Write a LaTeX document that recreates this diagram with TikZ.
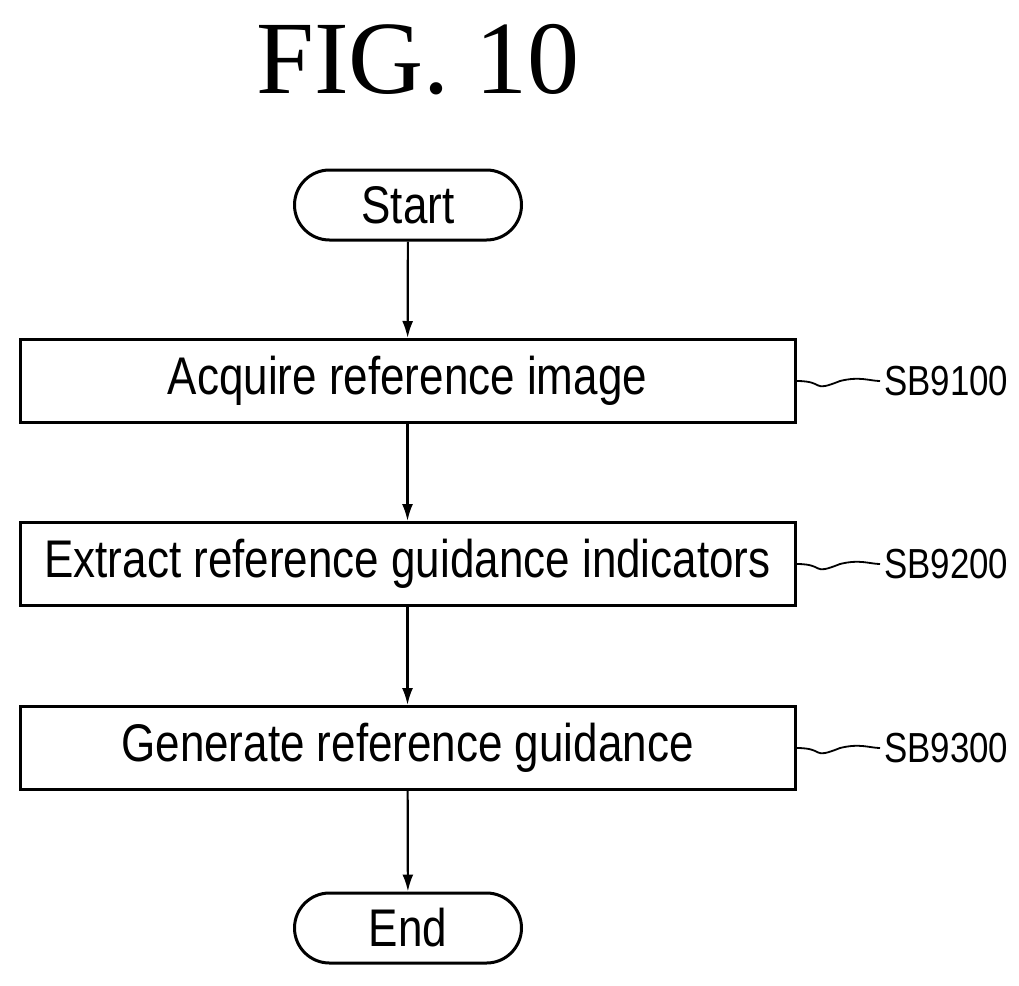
\documentclass[tikz,border=0pt]{standalone}
\usepackage{fontspec}
\setmainfont{Liberation Serif}
\newfontfamily\flowfont[FakeStretch=0.83]{Liberation Sans}
\usetikzlibrary{positioning,shapes.misc,arrows.meta}

\tikzset{
  stepbox/.style={draw, line width=3pt, minimum width=775pt, minimum height=83pt, inner sep=0pt, font=\flowfont\fontsize{53}{60}\selectfont},
  term/.style={draw, line width=3pt, rounded rectangle, minimum width=227pt, minimum height=70pt, inner sep=0pt, font=\flowfont\fontsize{53}{60}\selectfont},
  tag/.style={anchor=west, inner sep=0pt, font=\flowfont\fontsize{42}{50}\selectfont},
  flow/.style={-{Latex[length=17pt,width=11pt]}, line width=2.2pt},
  squig/.style={line width=1.8pt}
}

\begin{document}
\begin{tikzpicture}[x=1pt,y=1pt,yscale=-1]
\useasboundingbox (0,0) rectangle (1019,985);

% title
\node (title) at (418,60) {\fontsize{104}{110}\selectfont FIG. 10};

% terminators and steps
\node[term] (start) at (408,205) {Start};
\node[stepbox] (acquire) at (407.5,381) {Acquire reference image};
\node[stepbox] (extract) at (407.5,564) {Extract reference guidance indicators};
\node[stepbox] (generate) at (407.5,748) {Generate reference guidance};
\node[term] (end) at (408,928) {End};

% step labels
\node[tag] (sb1) at (884,381) {SB9100};
\node[tag] (sb2) at (884,564) {SB9200};
\node[tag] (sb3) at (884,748) {SB9300};

% arrows
\draw[flow] (start) -- (acquire);
\draw[flow] (acquire) -- (extract);
\draw[flow] (extract) -- (generate);
\draw[flow] (generate) -- (end);

% leader lines
\foreach \s/\t in {acquire/sb1, extract/sb2, generate/sb3}
  \draw[squig] (\s.east) .. controls +(30,0) and +(-30,12) .. ([xshift=-44pt]\t.west) .. controls +(20,-5) and +(-10,0) .. ([xshift=-4pt]\t.west);

\end{tikzpicture}
\end{document}
